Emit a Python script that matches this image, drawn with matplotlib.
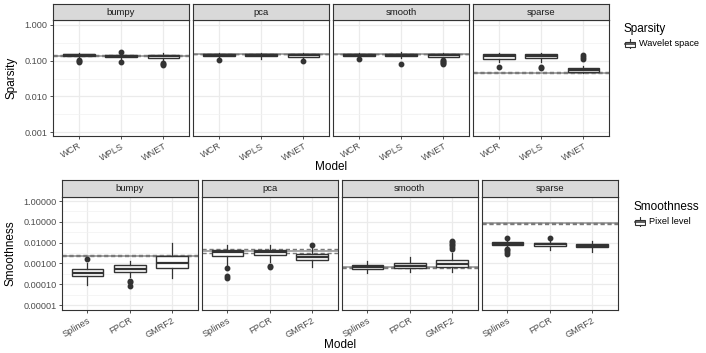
import matplotlib
matplotlib.use("Agg")
import matplotlib.pyplot as plt
from matplotlib.patches import Rectangle
from matplotlib.ticker import FixedLocator, NullFormatter

plt.rcParams['font.family'] = ['Liberation Sans', 'DejaVu Sans']

W, H = 706, 353

panels = ["bumpy", "pca", "smooth", "sparse"]

# ---- top row: Sparsity (wavelet space) ----
sp_models = ["WCR", "WPLS", "WNET"]
sp_q1 = [[0.138, 0.124, 0.117], [0.133, 0.132, 0.127], [0.133, 0.132, 0.130], [0.115, 0.116, 0.049]]
sp_med = [[0.148, 0.132, 0.138], [0.145, 0.144, 0.140], [0.145, 0.144, 0.140], [0.135, 0.133, 0.054]]
sp_q3 = [[0.158, 0.146, 0.148], [0.158, 0.157, 0.153], [0.158, 0.155, 0.152], [0.157, 0.155, 0.061]]
sp_lo = [[0.125, 0.110, 0.100], [0.118, 0.112, 0.110], [0.120, 0.120, 0.115], [0.090, 0.090, 0.044]]
sp_hi = [[0.165, 0.160, 0.160], [0.168, 0.168, 0.162], [0.168, 0.170, 0.162], [0.165, 0.165, 0.070]]
sp_fliers = [[[0.107, 0.100, 0.094], [0.172, 0.092], [0.088, 0.082, 0.077]],
             [[0.105], [], [0.100]],
             [[0.112], [0.081], [0.105, 0.097, 0.090, 0.085, 0.081]],
             [[0.066], [0.066, 0.061], [0.140, 0.128, 0.115]]]
sp_ref = [[0.139, 0.136, 0.142], [0.152, 0.150, 0.155], [0.152, 0.150, 0.155], [0.0465, 0.046, 0.047]]
sp_ticks = [1.0, 0.1, 0.01, 0.001]
sp_ticklabels = ["1.000", "0.100", "0.010", "0.001"]

# ---- bottom row: Smoothness (pixel level) ----
sm_models = ["Splines", "FPCR", "GMRF2"]
sm_q1 = [[0.000247, 0.00039, 0.00063], [0.0022, 0.0025, 0.00146], [0.00054, 0.0006, 0.00069], [0.0073, 0.0066, 0.0059]]
sm_med = [[0.00035, 0.00056, 0.00105], [0.0034, 0.0035, 0.0020], [0.00067, 0.00075, 0.00092], [0.0090, 0.0082, 0.0071]]
sm_q3 = [[0.00052, 0.00081, 0.00234], [0.0044, 0.0044, 0.0028], [0.00083, 0.0010, 0.00141], [0.0108, 0.0100, 0.0085]]
sm_lo = [[0.0000911, 0.00022, 0.00019], [0.0008, 0.0012, 0.00069], [0.00034, 0.0004, 0.0004], [0.0055, 0.0046, 0.0037]]
sm_hi = [[0.0010, 0.00126, 0.0093], [0.0077, 0.0077, 0.0053], [0.00127, 0.0021, 0.0031], [0.014, 0.013, 0.012]]
sm_fliers = [[[0.0017], [0.00015, 0.00013, 0.000085], []],
             [[0.00062, 0.00025, 0.0002], [0.00075, 0.00065], [0.0079]],
             [[], [], [0.0125, 0.0105, 0.009, 0.0075, 0.0062, 0.005]],
             [[0.017, 0.005, 0.0042, 0.0035, 0.003], [0.017], []]]
sm_ref = [[0.00235, 0.0022, 0.0025], [0.0040, 0.0031, 0.0049], [0.00065, 0.00061, 0.00069], [0.085, 0.083, 0.087]]
sm_ticks = [1.0, 0.1, 0.01, 0.001, 0.0001, 0.00001]
sm_ticklabels = ["1.00000", "0.10000", "0.01000", "0.00100", "0.00010", "0.00001"]

DARK = "#333333"


def px_axes(x0, y0, x1, y1):
    return fig.add_axes([x0 / W, 1 - y1 / H, (x1 - x0) / W, (y1 - y0) / H])


def draw_row(left, width, gap, strip_top, strip_bot, bottom, models, q1, med, q3, lo, hi, fl, refs,
             ylim, ticks, ticklabels, ylabel, model_xy, leg_title, leg_label, leg_xy):
    first = None
    for i, name in enumerate(panels):
        x0 = left + i * (width + gap)
        ax = px_axes(x0, strip_bot, x0 + width, bottom)
        st = px_axes(x0, strip_top, x0 + width, strip_bot)
        st.set_facecolor("#D9D9D9")
        st.set_xticks([])
        st.set_yticks([])
        for s in st.spines.values():
            s.set_color(DARK)
            s.set_linewidth(0.8)
        st.text(0.5, 0.5, name, ha="center", va="center", fontsize=6.8, color="#1A1A1A")

        stats = []
        for j in range(3):
            stats.append(dict(med=med[i][j], q1=q1[i][j], q3=q3[i][j], whislo=lo[i][j],
                              whishi=hi[i][j], fliers=fl[i][j]))
        mid, rlo, rhi = refs[i]
        ax.axhline(mid, color="#9a9a9a", lw=1.2, zorder=1)
        ax.axhline(rlo, color="#7a7a7a", lw=1.0, ls=(0, (3, 2)), zorder=1)
        ax.axhline(rhi, color="#7a7a7a", lw=1.0, ls=(0, (3, 2)), zorder=1)
        ax.bxp(stats, positions=[1, 2, 3], widths=0.75, showcaps=False, patch_artist=True,
               boxprops=dict(facecolor="white", edgecolor=DARK, linewidth=1.0),
               medianprops=dict(color=DARK, linewidth=1.6),
               whiskerprops=dict(color=DARK, linewidth=0.9),
               flierprops=dict(marker="o", markerfacecolor=DARK, markeredgecolor=DARK, markersize=3.2),
               zorder=3)
        ax.set_yscale("log")
        ax.set_ylim(*ylim)
        ax.set_xlim(0.4, 3.6)
        ax.set_xticks([1, 2, 3])
        ax.set_xticklabels(models, rotation=30, ha="right", va="top", rotation_mode="anchor",
                           fontsize=6.6, color="#4D4D4D")
        ax.yaxis.set_major_locator(FixedLocator(ticks))
        minors = [t * 10 ** 0.5 for t in ticks]
        ax.yaxis.set_minor_locator(FixedLocator(minors))
        ax.yaxis.set_minor_formatter(NullFormatter())
        if i == 0:
            ax.set_yticklabels(ticklabels, fontsize=6.6, color="#4D4D4D")
            first = ax
        else:
            ax.set_yticklabels([])
        ax.tick_params(axis="both", which="major", width=0.6, color=DARK, length=2.5, pad=1.5)
        ax.tick_params(axis="y", which="minor", length=0)
        if i > 0:
            ax.tick_params(axis="y", which="major", length=0)
        ax.grid(True, which="major", color="#EBEBEB", lw=0.9, zorder=0)
        ax.grid(True, which="minor", axis="y", color="#F2F2F2", lw=0.5, zorder=0)
        ax.set_axisbelow(True)
        for s in ax.spines.values():
            s.set_color(DARK)
            s.set_linewidth(0.8)

    first.set_ylabel(ylabel, fontsize=8.5, color="black", labelpad=5)
    fig.text(model_xy[0] / W, 1 - model_xy[1] / H, "Model", ha="center", va="center", fontsize=8.5)

    # legend
    lx, ly = leg_xy
    fig.text(lx / W, 1 - ly / H, leg_title, ha="left", va="center", fontsize=8.5)
    k = px_axes(lx + 1, ly + 10, lx + 13, ly + 20)
    k.set_xlim(0, 1)
    k.set_ylim(0, 1)
    k.axis("off")
    k.plot([0.5, 0.5], [0, 0.25], color=DARK, lw=0.8)
    k.plot([0.5, 0.5], [0.75, 1], color=DARK, lw=0.8)
    k.add_patch(Rectangle((0.05, 0.25), 0.9, 0.5, facecolor="white", edgecolor=DARK, lw=0.8))
    k.plot([0.05, 0.95], [0.5, 0.5], color=DARK, lw=1.1)
    fig.text((lx + 16) / W, 1 - (ly + 15) / H, leg_label, ha="left", va="center", fontsize=6.6)


fig = plt.figure(figsize=(W / 100, H / 100), dpi=100)

draw_row(53.3, 135.5, 4.5, 4.3, 20, 136, sp_models, sp_q1, sp_med, sp_q3, sp_lo, sp_hi, sp_fliers,
         sp_ref, (10 ** -3.11, 10 ** 0.14), sp_ticks, sp_ticklabels, "Sparsity", (331, 167),
         "Sparsity", "Wavelet space", (623, 29))

draw_row(62, 135.5, 4.5, 180, 196.7, 310, sm_models, sm_q1, sm_med, sm_q3, sm_lo, sm_hi, sm_fliers,
         sm_ref, (10 ** -5.24, 10 ** 0.21), sm_ticks, sm_ticklabels, "Smoothness", (340, 345),
         "Smoothness", "Pixel level", (633, 207))

fig.savefig("out.png", dpi=100)
